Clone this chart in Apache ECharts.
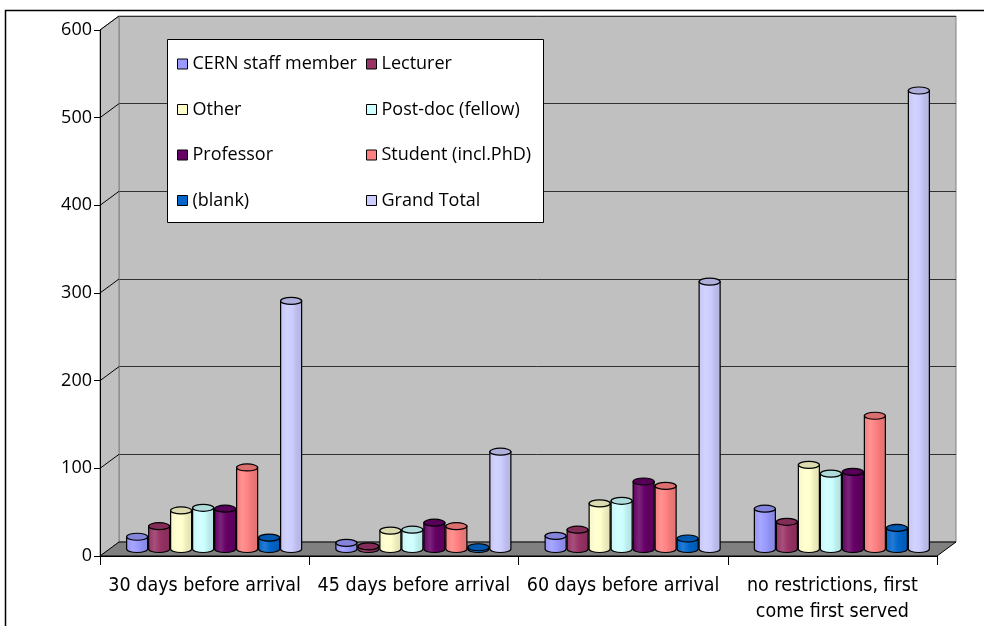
<!DOCTYPE html>
<html><head><meta charset="utf-8">
<script src="https://cdn.jsdelivr.net/npm/echarts@6/dist/echarts.min.js"></script>
<style>html,body{margin:0;padding:0;background:#fff}#c{width:984px;height:626px}</style>
</head><body><div id="c"></div>
<script>
// ---- data ----
const categories = ['30 days before arrival', '45 days before arrival', '60 days before arrival', 'no restrictions, first\ncome first served'];
const cernStaff  = [14, 7, 15, 46];
const lecturer   = [26, 3, 22, 31];
const other      = [44, 21, 52, 96];
const postDoc    = [47, 22, 55, 86];
const professor  = [46, 30, 77, 88];
const student    = [93, 26, 72, 152];
const blank      = [13, 2, 12, 24];
const grandTotal = [283, 111, 305, 523];
const seriesNames = ['CERN staff member', 'Lecturer', 'Other', 'Post-doc (fellow)', 'Professor', 'Student (incl.PhD)', '(blank)', 'Grand Total'];
const seriesValues = [cernStaff, lecturer, other, postDoc, professor, student, blank, grandTotal];
const yTicks = [0, 100, 200, 300, 400, 500, 600];

// ---- style ----
const colors = ['#9999FF', '#993366', '#FFFFCC', '#CCFFFF', '#660066', '#FF8080', '#0066CC', '#CCCCFF'];
function shade(hex, f) {
  let r = parseInt(hex.slice(1,3),16), g = parseInt(hex.slice(3,5),16), b = parseInt(hex.slice(5,7),16);
  const t = f < 0 ? 0 : 255, p = Math.abs(f);
  r = Math.round((t - r) * p + r); g = Math.round((t - g) * p + g); b = Math.round((t - b) * p + b);
  return 'rgb(' + r + ',' + g + ',' + b + ')';
}
function cyl(c) {
  return { type: 'linear', x: 0, y: 0, x2: 1, y2: 0, colorStops: [
    { offset: 0, color: shade(c, -0.04) }, { offset: 0.3, color: shade(c, 0.14) },
    { offset: 0.55, color: c }, { offset: 0.75, color: shade(c, -0.08) }, { offset: 1, color: shade(c, -0.12) } ] };
}
const FONT = "'Open Sans', 'Noto Sans', sans-serif";
const XFONT = "'Liberation Sans Narrow', 'DejaVu Sans Condensed', sans-serif";
const FRONT = { left: 100, top: 30, width: 837, height: 526 };
const DX = 19, DY = -14;
const BACK = { left: FRONT.left + DX, top: FRONT.top + DY, width: FRONT.width, height: FRONT.height };
const MID = { left: FRONT.left + DX / 2, top: FRONT.top + DY / 2, width: FRONT.width, height: FRONT.height };
const BAR_W = 21, BAR_STEP = 22, RY = 3.5;

function renderCylinder(params, api) {
  const ci = api.value(0), v = api.value(1);
  const top = api.coord([ci, v]);
  const base = api.coord([ci, 0]);
  const si = params.seriesIndex;
  const cx = top[0] + (si - 3.5) * BAR_STEP;
  const x0 = cx - BAR_W / 2, x1 = cx + BAR_W / 2, rx = BAR_W / 2;
  const c = colors[si];
  const body = 'M' + x0 + ',' + top[1] + ' L' + x0 + ',' + base[1] +
    ' A' + rx + ' ' + RY + ' 0 0 0 ' + x1 + ',' + base[1] + ' L' + x1 + ',' + top[1] + ' Z';
  const cap = 'M' + x0 + ',' + top[1] + ' A' + rx + ' ' + RY + ' 0 1 0 ' + x1 + ',' + top[1] +
    ' A' + rx + ' ' + RY + ' 0 1 0 ' + x0 + ',' + top[1] + ' Z';
  return { type: 'group', children: [
    { type: 'path', shape: { pathData: body }, style: { fill: cyl(c), stroke: '#000', lineWidth: 1.2 } },
    { type: 'path', shape: { pathData: cap }, style: { fill: shade(c, -0.14), stroke: '#000', lineWidth: 1.2 } }
  ] };
}

const chart = echarts.init(document.getElementById('c'));
const yBase = { type: 'value', min: 0, max: 600, interval: 100 };
const option = {
  animation: false,
  backgroundColor: '#fff',
  grid: [
    Object.assign({}, FRONT),
    Object.assign({ show: true, backgroundColor: '#C0C0C0', borderColor: '#808080', borderWidth: 1 }, BACK),
    Object.assign({}, MID)
  ],
  xAxis: [
    { type: 'category', gridIndex: 0, data: categories, z: 3,
      axisLine: { show: true, lineStyle: { color: '#000', width: 1 } },
      axisTick: { show: true, length: 9, lineStyle: { color: '#000' } },
      axisLabel: { fontFamily: XFONT, fontSize: 19.5, color: '#000', margin: 17, lineHeight: 26, interval: 0 } },
    { type: 'category', gridIndex: 1, data: categories, show: false },
    { type: 'category', gridIndex: 2, data: categories, show: false }
  ],
  yAxis: [
    Object.assign({ gridIndex: 0, z: 3,
      axisLine: { show: true, lineStyle: { color: '#000' } },
      axisTick: { show: true, inside: false, length: 6, lineStyle: { color: '#000' } },
      axisLabel: { fontFamily: FONT, fontSize: 18, color: '#000', margin: 8 },
      splitLine: { show: false } }, yBase),
    Object.assign({ gridIndex: 1, axisLine: { show: false }, axisTick: { show: false }, axisLabel: { show: false },
      splitLine: { show: true, lineStyle: { color: '#303030', width: 1 } } }, yBase),
    Object.assign({ gridIndex: 2, show: false, splitLine: { show: false } }, yBase)
  ],
  legend: [
    { orient: 'vertical', left: 172, top: 49, itemWidth: 10, itemHeight: 10, itemGap: 25.5, icon: 'rect', z: 10,
      textStyle: { fontFamily: FONT, fontSize: 18, color: '#000', lineHeight: 20 },
      data: [0, 2, 4, 6].map(i => ({ name: seriesNames[i], itemStyle: { color: colors[i], borderColor: '#000', borderWidth: 1 } })) },
    { orient: 'vertical', left: 361, top: 49, itemWidth: 10, itemHeight: 10, itemGap: 25.5, icon: 'rect', z: 10,
      textStyle: { fontFamily: FONT, fontSize: 18, color: '#000', lineHeight: 20 },
      data: [1, 3, 5, 7].map(i => ({ name: seriesNames[i], itemStyle: { color: colors[i], borderColor: '#000', borderWidth: 1 } })) }
  ],
  series: seriesNames.map((n, i) => ({
    name: n, type: 'custom', xAxisIndex: 2, yAxisIndex: 2, z: 4,
    data: seriesValues[i].map((v, ci) => [ci, v]),
    encode: { x: 0, y: 1 },
    itemStyle: { color: colors[i] },
    renderItem: renderCylinder
  }))
};
chart.setOption(option);

// decorative 3D walls, floor, legend box and border
const g = [];
const fx0 = FRONT.left, fx1 = FRONT.left + FRONT.width, fy0 = FRONT.top + FRONT.height, fyT = FRONT.top;
g.push({ type: 'polygon', z: 1, shape: { points: [[fx0, fy0], [fx0, fyT], [fx0 + DX, fyT + DY], [fx0 + DX, fy0 + DY]] },
  style: { fill: '#C0C0C0', stroke: '#808080', lineWidth: 1 } });
g.push({ type: 'polygon', z: 1, shape: { points: [[fx0, fy0], [fx0 + DX, fy0 + DY], [fx1 + DX, fy0 + DY], [fx1, fy0]] },
  style: { fill: '#808080', stroke: '#000', lineWidth: 1 } });
yTicks.forEach(v => {
  const yf = chart.convertToPixel({ yAxisIndex: 0 }, v);
  const yb = chart.convertToPixel({ yAxisIndex: 1 }, v);
  if (v > 0) g.push({ type: 'line', z: 2, shape: { x1: fx0, y1: yf, x2: fx0 + DX, y2: yb }, style: { stroke: '#000', lineWidth: 1 } });
});
g.push({ type: 'rect', z: 8, shape: { x: 167.5, y: 39.5, width: 376, height: 183 }, style: { fill: '#fff', stroke: '#000', lineWidth: 1 } });
g.push({ type: 'rect', z: 20, shape: { x: 5.5, y: 10.5, width: 1000, height: 700 }, style: { fill: 'none', stroke: '#000', lineWidth: 1.5 } });
chart.setOption({ graphic: g });
</script></body></html>
